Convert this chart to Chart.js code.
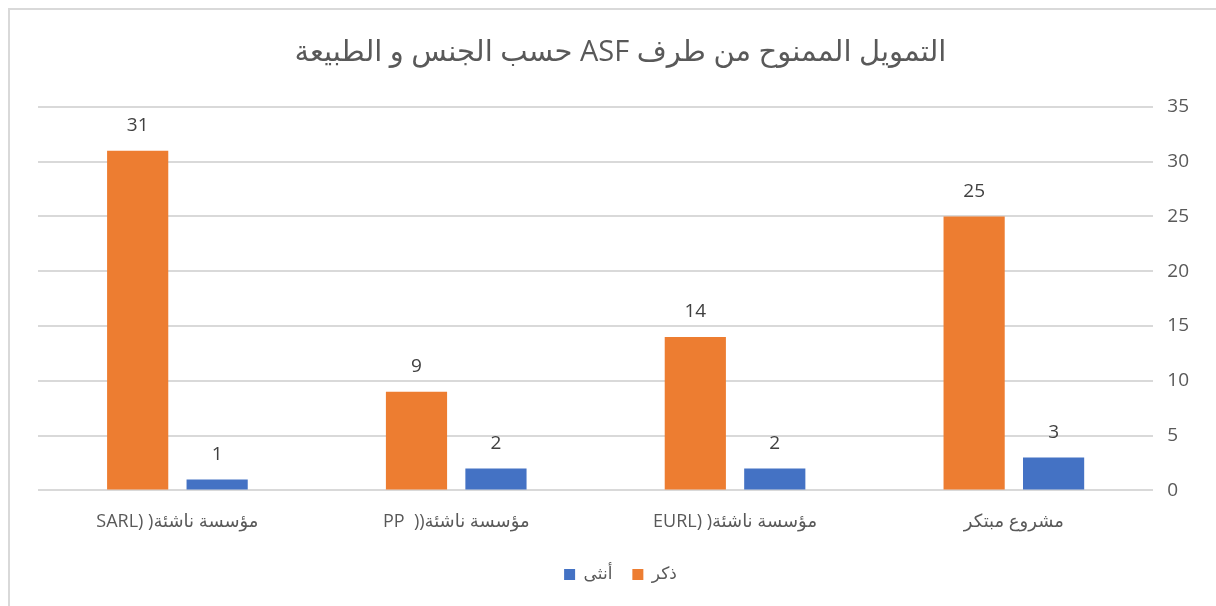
<!DOCTYPE html>
<html>
<head>
<meta charset="utf-8">
<script src="https://cdn.jsdelivr.net/npm/chart.js@4"></script>
<style>
  html, body { margin: 0; padding: 0; background: #fff; overflow: hidden; }
  #frame { position: absolute; left: 8px; top: 8px; width: 1230px; height: 620px; border: 2px solid #d9d9d9; }
  #wrap { position: absolute; left: 0; top: 0; width: 1216px; height: 606px; }
</style>
</head>
<body>
<div id="frame"></div>
<div id="wrap"><canvas id="chart"></canvas></div>
<script>
// categories in the order they appear left to right (RTL chart)
// (LRM keeps the brackets as they show in the original)
const categories = ['SARL) )\u200Eمؤسسة ناشئة', 'PP  ))\u200Eمؤسسة ناشئة', 'EURL) )\u200Eمؤسسة ناشئة', 'مشروع مبتكر'];
const maleValues = [31, 9, 14, 25];   // ذكر
const femaleValues = [1, 2, 2, 3];    // أنثى
const yTicks = [0, 5, 10, 15, 20, 25, 30, 35];
const titleText = 'التمويل الممنوح من طرف ASF حسب الجنس و الطبيعة';

const textColor = '#595959';
const fontFamily = '"Open Sans", "DejaVu Sans", sans-serif';

// value labels above each bar
const barLabels = {
    id: 'barLabels',
    afterDatasetsDraw(chart) {
        const ctx = chart.ctx;
        ctx.save();
        ctx.font = '19px ' + fontFamily;
        ctx.fillStyle = '#404040';
        ctx.textAlign = 'center';
        ctx.textBaseline = 'middle';
        chart.data.datasets.forEach((ds, i) => {
            chart.getDatasetMeta(i).data.forEach((bar, j) => {
                ctx.fillText(ds.data[j], bar.x, bar.y - 25);
            });
        });
        ctx.restore();
    }
};

new Chart(document.getElementById('chart'), {
    type: 'bar',
    data: {
        labels: categories,
        datasets: [
            {
                label: 'ذكر',
                data: maleValues,
                backgroundColor: '#ED7D31',
                categoryPercentage: 0.57,
                barPercentage: 0.77
            },
            {
                label: 'أنثى',
                data: femaleValues,
                backgroundColor: '#4472C4',
                categoryPercentage: 0.57,
                barPercentage: 0.77
            }
        ]
    },
    options: {
        responsive: true,
        maintainAspectRatio: false,
        animation: false,
        layout: { padding: { left: 38, right: 13, top: 23, bottom: 13 } },
        plugins: {
            title: {
                display: true,
                // RLE ... PDF so the title reads right to left
                text: '\u202B' + titleText + '\u202C',
                color: textColor,
                font: { size: 29, family: fontFamily, weight: 'normal' },
                padding: { top: 12, bottom: 37 }
            },
            legend: {
                position: 'bottom',
                reverse: true,
                labels: {
                    color: textColor,
                    font: { size: 17, family: fontFamily },
                    boxWidth: 11,
                    boxHeight: 11,
                    padding: 20
                }
            },
            tooltip: { enabled: false }
        },
        scales: {
            x: {
                grid: { display: false },
                border: { display: false },
                ticks: {
                    color: textColor,
                    font: { size: 18, family: fontFamily },
                    padding: 13,
                    maxRotation: 0
                }
            },
            y: {
                position: 'right',
                min: 0,
                max: 35,
                afterBuildTicks(axis) {
                    axis.ticks = yTicks.map(v => ({ value: v }));
                },
                grid: { color: '#d9d9d9', lineWidth: 2, drawTicks: false },
                border: { display: false },
                ticks: {
                    color: textColor,
                    font: { size: 19, family: fontFamily },
                    padding: 14
                }
            }
        }
    },
    plugins: [barLabels]
});
</script>
</body>
</html>
